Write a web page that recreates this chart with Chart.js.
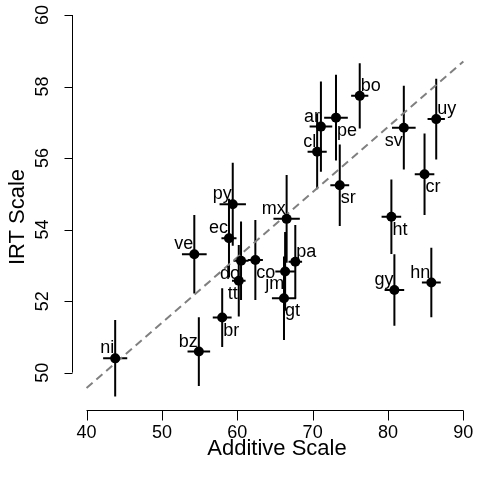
<!DOCTYPE html>
<html>
<head>
<meta charset="utf-8">
<script src="https://cdn.jsdelivr.net/npm/chart.js@4"></script>
<style>
  html, body { margin: 0; padding: 0; background: #fff; }
  #wrap { width: 478px; height: 477px; }
</style>
</head>
<body>
<div id="wrap"><canvas id="myChart" width="478" height="477"></canvas></div>
<script>
// country codes and where the label sits around the point
const countries = ['ni','bz','br','tt','do','co','ec','ve','py','mx','jm','gt',
                   'pa','cl','ar','pe','bo','sr','sv','uy','cr','ht','gy','hn'];
const labelPos  = ['tl','tl','br','bl','bl','br','tl','tl','tl','tl','bl','br',
                   'tr','tl','tl','br','tr','br','bl','tr','br','br','tl','tl'];

// Additive scale (x) and its error
const additive    = [43.8, 54.9, 58.0, 60.2, 60.5, 62.4, 58.9, 54.3, 59.4, 66.55, 66.35, 66.2,
                     67.7, 70.6, 71.1, 73.1, 76.25, 73.6, 82.1, 86.4, 84.85, 80.45, 80.85, 85.75];
const additiveErr = [1.6, 1.5, 1.25, 0.9, 1.0, 1.0, 1.0, 1.64, 1.75, 1.75, 1.3, 1.6,
                     0.9, 1.27, 1.5, 1.57, 1.14, 1.25, 1.57, 1.15, 1.3, 1.3, 1.3, 1.25];

// IRT scale (y) and its error
const irt    = [50.40, 50.59, 51.54, 52.57, 53.13, 53.15, 53.76, 53.31, 54.71, 54.30, 52.83, 52.08,
                53.10, 56.18, 56.88, 57.13, 57.74, 55.24, 56.85, 57.09, 55.55, 54.36, 52.31, 52.52];
const irtErr = [1.07, 0.96, 0.82, 1.0, 1.1, 1.12, 1.1, 1.1, 1.16, 1.23, 1.1, 1.17,
                1.03, 1.05, 1.26, 1.2, 0.91, 1.14, 1.17, 1.13, 1.14, 1.04, 1.0, 0.97];

// dashed reference line
const fitX = [40, 90];
const fitY = [49.57, 58.70];

const xTicks = [40, 50, 60, 70, 80, 90];
const yTicks = [50, 52, 54, 56, 58, 60];

const FONT = '"Liberation Sans", Arial, Helvetica, sans-serif';

// R-like axes, error bars and text labels
const rStyle = {
  id: 'rStyle',
  beforeDatasetsDraw(chart) {
    const c = chart.ctx, xs = chart.scales.x, ys = chart.scales.y;
    c.save();
    c.strokeStyle = '#000';
    c.lineWidth = 2;
    for (let i = 0; i < countries.length; i++) {
      const px = xs.getPixelForValue(additive[i]);
      const py = ys.getPixelForValue(irt[i]);
      c.beginPath();
      c.moveTo(xs.getPixelForValue(additive[i] - additiveErr[i]), py);
      c.lineTo(xs.getPixelForValue(additive[i] + additiveErr[i]), py);
      c.moveTo(px, ys.getPixelForValue(irt[i] - irtErr[i]));
      c.lineTo(px, ys.getPixelForValue(irt[i] + irtErr[i]));
      c.stroke();
    }
    c.restore();
  },
  afterDatasetsDraw(chart) {
    const c = chart.ctx, xs = chart.scales.x, ys = chart.scales.y;
    c.save();
    c.fillStyle = '#000';
    c.font = '18px ' + FONT;
    c.textBaseline = 'alphabetic';
    for (let i = 0; i < countries.length; i++) {
      const px = xs.getPixelForValue(additive[i]);
      const py = ys.getPixelForValue(irt[i]);
      const p = labelPos[i];
      c.textAlign = p[1] === 'l' ? 'right' : 'left';
      const tx = p[1] === 'l' ? px - 1 : px + 1;
      const ty = p[0] === 't' ? py - 5 : py + 18;
      c.fillText(countries[i], tx, ty);
    }
    c.restore();
  },
  afterDraw(chart) {
    const c = chart.ctx, xs = chart.scales.x, ys = chart.scales.y;
    const area = chart.chartArea;
    c.save();
    c.strokeStyle = '#000';
    c.fillStyle = '#000';
    c.lineWidth = 1;

    // x axis
    const ay = Math.round(area.bottom) + 0.5;
    c.beginPath();
    c.moveTo(xs.getPixelForValue(xTicks[0]), ay);
    c.lineTo(xs.getPixelForValue(xTicks[xTicks.length - 1]), ay);
    xTicks.forEach(t => {
      const x = Math.round(xs.getPixelForValue(t)) + 0.5;
      c.moveTo(x, ay);
      c.lineTo(x, ay + 10);
    });
    c.stroke();
    c.font = '18px ' + FONT;
    c.textAlign = 'center';
    c.textBaseline = 'middle';
    xTicks.forEach(t => c.fillText(String(t), xs.getPixelForValue(t), ay + 23));
    c.font = '22px ' + FONT;
    c.fillText('Additive Scale', 277, ay + 38);

    // y axis
    const ax = Math.round(area.left) + 0.5;
    c.beginPath();
    c.moveTo(ax, ys.getPixelForValue(yTicks[0]));
    c.lineTo(ax, ys.getPixelForValue(yTicks[yTicks.length - 1]));
    yTicks.forEach(t => {
      const y = Math.round(ys.getPixelForValue(t)) + 0.5;
      c.moveTo(ax, y);
      c.lineTo(ax - 8, y);
    });
    c.stroke();
    c.font = '18px ' + FONT;
    yTicks.forEach(t => {
      c.save();
      c.translate(ax - 29, ys.getPixelForValue(t));
      c.rotate(-Math.PI / 2);
      c.fillText(String(t), 0, 0);
      c.restore();
    });
    c.save();
    c.font = '22px ' + FONT;
    c.translate(18, 217);
    c.rotate(-Math.PI / 2);
    c.fillText('IRT Scale', 0, 0);
    c.restore();

    c.restore();
  }
};

const ctx = document.getElementById('myChart');

new Chart(ctx, {
  type: 'scatter',
  data: {
    datasets: [{
      data: countries.map((k, i) => ({ x: additive[i], y: irt[i] })),
      pointRadius: 5,
      pointHoverRadius: 5,
      backgroundColor: '#000',
      borderWidth: 0,
      order: 1
    }, {
      type: 'line',
      data: fitX.map((x, i) => ({ x: x, y: fitY[i] })),
      borderColor: '#808080',
      borderWidth: 2,
      borderDash: [8, 5],
      pointRadius: 0,
      fill: false,
      order: 2
    }]
  },
  options: {
    responsive: false,
    animation: false,
    layout: { padding: { left: 72, right: 0, top: 5, bottom: 67.5 } },
    plugins: { legend: { display: false }, tooltip: { enabled: false } },
    scales: {
      x: { type: 'linear', min: 38.07, max: 91.28, display: false },
      y: { type: 'linear', min: 48.97, max: 60.28, display: false }
    }
  },
  plugins: [rStyle]
});
</script>
</body>
</html>
